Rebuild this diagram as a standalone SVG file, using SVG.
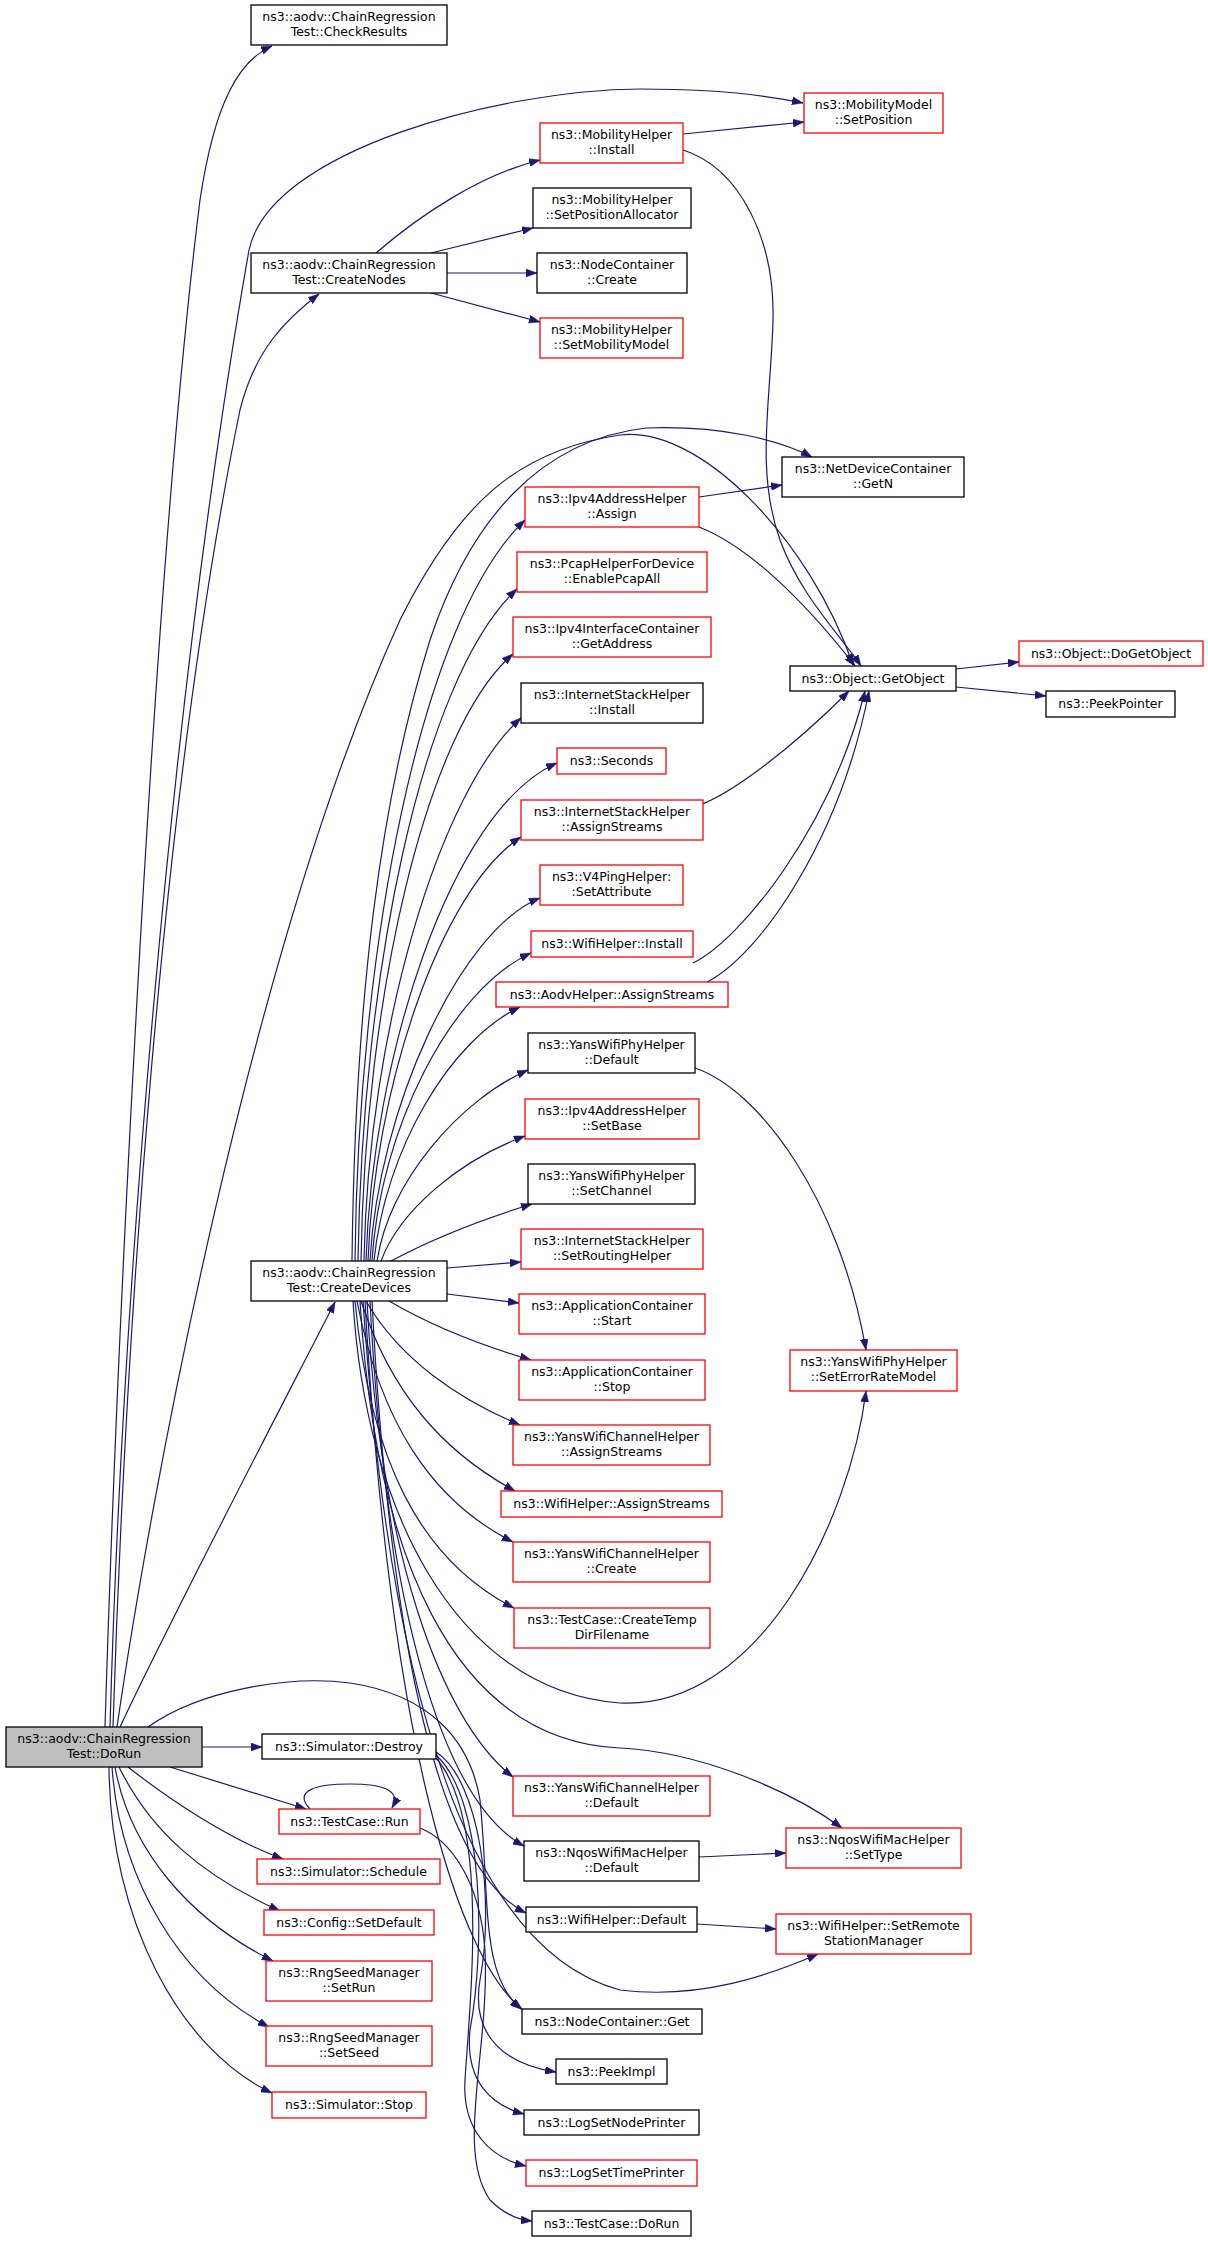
<svg xmlns="http://www.w3.org/2000/svg" width="1208" height="2243" viewBox="0 0 1208 2243">
<style>
.n rect{fill:#fff;stroke:#000;stroke-width:1.3}
.n.r rect{stroke:#f00}
.n.g rect{fill:#bfbfbf}
text{font-family:"DejaVu Sans","Liberation Sans",sans-serif;font-size:12.5px;text-anchor:middle;fill:#000}
#edges path{fill:none;stroke:#191970;stroke-width:1.2;marker-end:url(#a)}
</style>
<defs>
<marker id="a" markerUnits="userSpaceOnUse" markerWidth="11" markerHeight="8" refX="11" refY="4" orient="auto"><path d="M0,0 L11,4 L0,8 z" fill="#191970" stroke="#191970" stroke-width="0.5"/></marker>
</defs>
<rect width="1208" height="2243" fill="#fff"/>
<g id="edges">
<path d="M105,1727 C115,1400 150,600 200,200 C215,100 240,60 272,46"/>
<path d="M110,1727 C122,1300 170,700 249,250 C270,150 500,90 640,89 C720,89 770,96 803,103"/>
<path d="M113,1727 C125,1350 160,800 240,410 C255,350 285,320 319,294"/>
<path d="M117,1727 C150,1500 250,950 400,620 C460,500 520,450 620,435 C700,425 810,540 853,665"/>
<path d="M120,1727 C170,1620 290,1390 335,1302"/>
<path d="M148,1727 C200,1690 290,1675 350,1683 C430,1695 470,1740 480,1800 C490,1900 480,1975 521,2009"/>
<path d="M202,1747 L262,1747"/>
<path d="M170,1767 L306,1809"/>
<path d="M310,1809 C292,1790 318,1784 350,1784 C382,1784 402,1790 392,1808"/>
<path d="M128,1767 C170,1800 230,1840 283,1859"/>
<path d="M119,1767 C150,1830 200,1875 280,1911"/>
<path d="M115,1767 C130,1850 190,1920 273,1961"/>
<path d="M112,1767 C120,1880 180,1980 269,2027"/>
<path d="M109,1767 C110,1920 180,2050 272,2093"/>
<path d="M376,253 C420,215 480,175 540,160"/>
<path d="M431,253 L533,228"/>
<path d="M447,273 L537,273"/>
<path d="M431,293 L540,322"/>
<path d="M683,134 L804,122"/>
<path d="M683,150 C740,168 775,240 773,320 C771,400 755,470 780,540 C800,595 840,635 861,666"/>
<path d="M352,1261 C355,1000 380,800 430,640 C470,520 540,440 646,428 C720,425 780,440 812,457"/>
<path d="M699,497 L782,485"/>
<path d="M699,527 C745,545 800,595 855,666"/>
<path d="M697,806 C730,795 790,750 849,691"/>
<path d="M693,963 C740,940 830,830 865,691"/>
<path d="M707,982 C760,955 840,840 869,691"/>
<path d="M956,669 L1019,662"/>
<path d="M956,687 L1046,696"/>
<path d="M355,1261 C358,950 420,620 525,520"/>
<path d="M358,1261 C362,980 420,680 517,589"/>
<path d="M361,1261 C365,1000 425,730 513,654"/>
<path d="M364,1261 C368,1030 440,790 521,718"/>
<path d="M366,1261 C372,1060 450,810 557,763"/>
<path d="M368,1261 C374,1090 440,890 521,837"/>
<path d="M370,1261 C378,1110 460,930 540,898"/>
<path d="M372,1261 C380,1130 450,990 531,953"/>
<path d="M374,1261 C385,1150 450,1040 520,1007"/>
<path d="M377,1261 C390,1180 460,1100 528,1070"/>
<path d="M381,1261 C400,1210 460,1160 525,1136"/>
<path d="M391,1261 C430,1240 480,1220 532,1204"/>
<path d="M447,1268 L521,1262"/>
<path d="M447,1294 L519,1303"/>
<path d="M389,1301 C430,1325 480,1345 531,1360"/>
<path d="M366,1301 C400,1360 460,1400 520,1425"/>
<path d="M361,1301 C390,1390 440,1450 515,1491"/>
<path d="M357,1301 C380,1420 430,1500 513,1542"/>
<path d="M355,1301 C370,1460 420,1560 514,1608"/>
<path d="M353,1301 C365,1500 450,1690 620,1703 C760,1710 850,1520 866,1391"/>
<path d="M695,1068 C760,1090 840,1200 866,1350"/>
<path d="M367,1301 C380,1550 440,1720 513,1777"/>
<path d="M360,1301 C375,1550 450,1740 620,1748 C700,1752 790,1790 842,1828"/>
<path d="M370,1301 C385,1600 440,1800 524,1846"/>
<path d="M699,1857 L786,1853"/>
<path d="M372,1301 C390,1650 440,1870 526,1913"/>
<path d="M697,1924 L776,1929"/>
<path d="M363,1301 C390,1700 470,1950 620,1990 C700,2000 770,1975 818,1954"/>
<path d="M365,1301 C390,1750 460,1960 522,2009"/>
<path d="M436,1752 C480,1780 495,1900 480,1980 C470,2040 510,2065 556,2072"/>
<path d="M436,1755 C485,1800 485,1950 470,2030 C465,2080 490,2105 524,2114"/>
<path d="M436,1758 C490,1820 470,2000 465,2080 C462,2130 490,2158 526,2166"/>
<path d="M420,1828 C450,1840 480,1880 485,1950 C490,2050 455,2150 490,2200 C505,2215 520,2220 532,2221"/>
</g>
<g id="n1" class="n"><rect x="251" y="5" width="196" height="40"/><text x="349" y="21">ns3::aodv::ChainRegression</text><text x="349" y="36">Test::CheckResults</text></g>
<g id="n2" class="n r"><rect x="804" y="93" width="139" height="40"/><text x="873.5" y="109">ns3::MobilityModel</text><text x="873.5" y="124">::SetPosition</text></g>
<g id="n3" class="n r"><rect x="540" y="123" width="143" height="40"/><text x="611.5" y="139">ns3::MobilityHelper</text><text x="611.5" y="154">::Install</text></g>
<g id="n4" class="n"><rect x="533" y="188" width="158" height="40"/><text x="612" y="204">ns3::MobilityHelper</text><text x="612" y="219">::SetPositionAllocator</text></g>
<g id="n5" class="n"><rect x="251" y="253" width="196" height="40"/><text x="349" y="269">ns3::aodv::ChainRegression</text><text x="349" y="284">Test::CreateNodes</text></g>
<g id="n6" class="n"><rect x="537" y="253" width="150" height="40"/><text x="612" y="269">ns3::NodeContainer</text><text x="612" y="284">::Create</text></g>
<g id="n7" class="n r"><rect x="540" y="318" width="143" height="40"/><text x="611.5" y="334">ns3::MobilityHelper</text><text x="611.5" y="349">::SetMobilityModel</text></g>
<g id="n8" class="n"><rect x="782" y="457" width="182" height="40"/><text x="873" y="473">ns3::NetDeviceContainer</text><text x="873" y="488">::GetN</text></g>
<g id="n9" class="n r"><rect x="525" y="487" width="174" height="40"/><text x="612" y="503">ns3::Ipv4AddressHelper</text><text x="612" y="518">::Assign</text></g>
<g id="n10" class="n r"><rect x="517" y="552" width="190" height="40"/><text x="612" y="568">ns3::PcapHelperForDevice</text><text x="612" y="583">::EnablePcapAll</text></g>
<g id="n11" class="n r"><rect x="513" y="617" width="198" height="40"/><text x="612" y="633">ns3::Ipv4InterfaceContainer</text><text x="612" y="648">::GetAddress</text></g>
<g id="n12" class="n"><rect x="790" y="666" width="166" height="25"/><text x="873" y="683">ns3::Object::GetObject</text></g>
<g id="n13" class="n r"><rect x="1019" y="641" width="184" height="25"/><text x="1111" y="658">ns3::Object::DoGetObject</text></g>
<g id="n14" class="n"><rect x="1046" y="691" width="129" height="26"/><text x="1110.5" y="708">ns3::PeekPointer</text></g>
<g id="n15" class="n"><rect x="521" y="683" width="182" height="40"/><text x="612" y="699">ns3::InternetStackHelper</text><text x="612" y="714">::Install</text></g>
<g id="n16" class="n r"><rect x="557" y="748" width="109" height="26"/><text x="611.5" y="765">ns3::Seconds</text></g>
<g id="n17" class="n r"><rect x="521" y="800" width="182" height="40"/><text x="612" y="816">ns3::InternetStackHelper</text><text x="612" y="831">::AssignStreams</text></g>
<g id="n18" class="n r"><rect x="540" y="865" width="143" height="40"/><text x="611.5" y="881">ns3::V4PingHelper:</text><text x="611.5" y="896">:SetAttribute</text></g>
<g id="n19" class="n r"><rect x="531" y="931" width="162" height="26"/><text x="612" y="948">ns3::WifiHelper::Install</text></g>
<g id="n20" class="n r"><rect x="496" y="982" width="232" height="25"/><text x="612" y="999">ns3::AodvHelper::AssignStreams</text></g>
<g id="n21" class="n"><rect x="528" y="1033" width="167" height="40"/><text x="611.5" y="1049">ns3::YansWifiPhyHelper</text><text x="611.5" y="1064">::Default</text></g>
<g id="n22" class="n r"><rect x="525" y="1099" width="174" height="40"/><text x="612" y="1115">ns3::Ipv4AddressHelper</text><text x="612" y="1130">::SetBase</text></g>
<g id="n23" class="n"><rect x="528" y="1164" width="167" height="40"/><text x="611.5" y="1180">ns3::YansWifiPhyHelper</text><text x="611.5" y="1195">::SetChannel</text></g>
<g id="n24" class="n r"><rect x="521" y="1229" width="182" height="40"/><text x="612" y="1245">ns3::InternetStackHelper</text><text x="612" y="1260">::SetRoutingHelper</text></g>
<g id="n25" class="n"><rect x="251" y="1261" width="196" height="40"/><text x="349" y="1277">ns3::aodv::ChainRegression</text><text x="349" y="1292">Test::CreateDevices</text></g>
<g id="n26" class="n r"><rect x="519" y="1294" width="186" height="40"/><text x="612" y="1310">ns3::ApplicationContainer</text><text x="612" y="1325">::Start</text></g>
<g id="n27" class="n r"><rect x="790" y="1350" width="167" height="41"/><text x="873.5" y="1366">ns3::YansWifiPhyHelper</text><text x="873.5" y="1381">::SetErrorRateModel</text></g>
<g id="n28" class="n r"><rect x="519" y="1360" width="186" height="40"/><text x="612" y="1376">ns3::ApplicationContainer</text><text x="612" y="1391">::Stop</text></g>
<g id="n29" class="n r"><rect x="513" y="1425" width="197" height="40"/><text x="611.5" y="1441">ns3::YansWifiChannelHelper</text><text x="611.5" y="1456">::AssignStreams</text></g>
<g id="n30" class="n r"><rect x="501" y="1491" width="221" height="26"/><text x="611.5" y="1508">ns3::WifiHelper::AssignStreams</text></g>
<g id="n31" class="n r"><rect x="513" y="1542" width="197" height="40"/><text x="611.5" y="1558">ns3::YansWifiChannelHelper</text><text x="611.5" y="1573">::Create</text></g>
<g id="n32" class="n r"><rect x="514" y="1608" width="196" height="40"/><text x="612" y="1624">ns3::TestCase::CreateTemp</text><text x="612" y="1639">DirFilename</text></g>
<g id="n33" class="n g"><rect x="6" y="1727" width="196" height="40"/><text x="104" y="1743">ns3::aodv::ChainRegression</text><text x="104" y="1758">Test::DoRun</text></g>
<g id="n34" class="n"><rect x="262" y="1734" width="174" height="25"/><text x="349" y="1751">ns3::Simulator::Destroy</text></g>
<g id="n35" class="n r"><rect x="513" y="1776" width="197" height="40"/><text x="611.5" y="1792">ns3::YansWifiChannelHelper</text><text x="611.5" y="1807">::Default</text></g>
<g id="n36" class="n r"><rect x="279" y="1809" width="141" height="25"/><text x="349.5" y="1826">ns3::TestCase::Run</text></g>
<g id="n37" class="n"><rect x="524" y="1841" width="175" height="40"/><text x="611.5" y="1857">ns3::NqosWifiMacHelper</text><text x="611.5" y="1872">::Default</text></g>
<g id="n38" class="n r"><rect x="786" y="1828" width="175" height="40"/><text x="873.5" y="1844">ns3::NqosWifiMacHelper</text><text x="873.5" y="1859">::SetType</text></g>
<g id="n39" class="n r"><rect x="257" y="1859" width="183" height="25"/><text x="348.5" y="1876">ns3::Simulator::Schedule</text></g>
<g id="n40" class="n r"><rect x="264" y="1910" width="170" height="25"/><text x="349" y="1927">ns3::Config::SetDefault</text></g>
<g id="n41" class="n"><rect x="526" y="1907" width="171" height="25"/><text x="611.5" y="1924">ns3::WifiHelper::Default</text></g>
<g id="n42" class="n r"><rect x="776" y="1914" width="195" height="40"/><text x="873.5" y="1930">ns3::WifiHelper::SetRemote</text><text x="873.5" y="1945">StationManager</text></g>
<g id="n43" class="n r"><rect x="266" y="1961" width="166" height="40"/><text x="349" y="1977">ns3::RngSeedManager</text><text x="349" y="1992">::SetRun</text></g>
<g id="n44" class="n"><rect x="522" y="2009" width="180" height="25"/><text x="612" y="2026">ns3::NodeContainer::Get</text></g>
<g id="n45" class="n r"><rect x="266" y="2026" width="166" height="40"/><text x="349" y="2042">ns3::RngSeedManager</text><text x="349" y="2057">::SetSeed</text></g>
<g id="n46" class="n"><rect x="556" y="2059" width="111" height="25"/><text x="611.5" y="2076">ns3::PeekImpl</text></g>
<g id="n47" class="n r"><rect x="272" y="2092" width="154" height="26"/><text x="349" y="2109">ns3::Simulator::Stop</text></g>
<g id="n48" class="n"><rect x="524" y="2110" width="175" height="25"/><text x="611.5" y="2127">ns3::LogSetNodePrinter</text></g>
<g id="n49" class="n r"><rect x="526" y="2160" width="171" height="26"/><text x="611.5" y="2177">ns3::LogSetTimePrinter</text></g>
<g id="n50" class="n"><rect x="532" y="2211" width="159" height="25"/><text x="611.5" y="2228">ns3::TestCase::DoRun</text></g>
</svg>
